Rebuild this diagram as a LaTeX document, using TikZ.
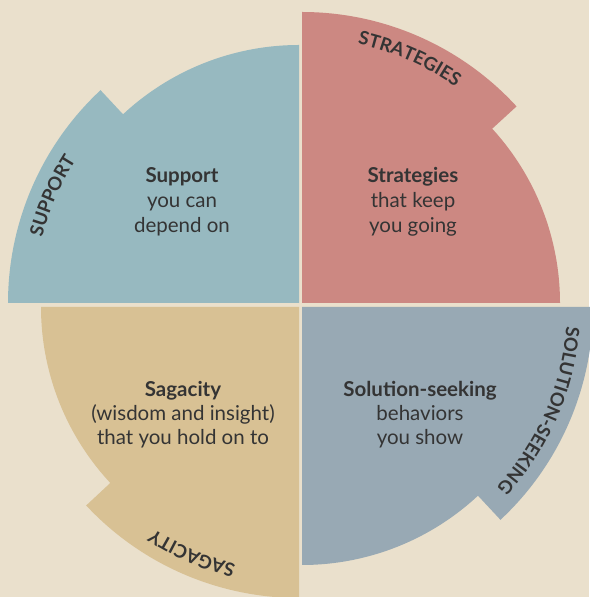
\documentclass[tikz,border=0pt]{standalone}
\usepackage{fontspec}
\setmainfont{Lato}
\newfontfamily\lblfont[LetterSpace=4]{Lato}
\usetikzlibrary{decorations.text}
\definecolor{bgc}{RGB}{234,224,204}
\definecolor{tlc}{RGB}{151,185,192}
\definecolor{trc}{RGB}{204,136,130}
\definecolor{brc}{RGB}{152,169,180}
\definecolor{blc}{RGB}{216,193,148}
\definecolor{txc}{RGB}{52,52,52}
\tikzset{
  x=1pt, y=1pt,
  body/.style={anchor=base, inner sep=0pt, text=txc, font=\fontsize{20.5}{24}\selectfont},
  bodyb/.style={body, font=\fontsize{20.5}{24}\selectfont\bfseries},
  band/.style={decorate, decoration={text along path, text align=center,
      text color=txc, text={|\lblfont\bfseries\fontsize{18.5}{19}\selectfont|#1}}},
}
\begin{document}
\begin{tikzpicture}
\fill[bgc] (0,0) rectangle (589,597);
\useasboundingbox (0,0) rectangle (589,597);
% top-left: Support
\begin{scope}[shift={(299,294)}]
  \coordinate (ctl) at (0,0);
  \fill[tlc] (ctl) -- (90:258) arc[start angle=90,end angle=133,radius=258]
    -- (133:291) arc[start angle=133,end angle=180,radius=291] -- cycle;
  \path[band=SUPPORT] (180:265) arc[start angle=180,end angle=133,radius=265];
\end{scope}
% top-right: Strategies
\begin{scope}[shift={(302,294)}]
  \coordinate (ctr) at (0,0);
  \fill[trc] (ctr) -- (0:258) arc[start angle=0,end angle=42.5,radius=258]
    -- (42.5:291) arc[start angle=42.5,end angle=90,radius=291] -- cycle;
  \path[band=STRATEGIES] (90:265) arc[start angle=90,end angle=42.5,radius=265];
\end{scope}
% bottom-right: Solution-seeking
\begin{scope}[shift={(302,290)}]
  \coordinate (cbr) at (0,0);
  \fill[brc] (cbr) -- (0:291) arc[start angle=0,end angle=-47,radius=291]
    -- (-47:258) arc[start angle=-47,end angle=-90,radius=258] -- cycle;
  \path[band=SOLUTION-SEEKING] (0:265) arc[start angle=0,end angle=-47,radius=265];
\end{scope}
% bottom-left: Sagacity
\begin{scope}[shift={(299,290)}]
  \coordinate (cbl) at (0,0);
  \fill[blc] (cbl) -- (180:258) arc[start angle=180,end angle=223,radius=258]
    -- (223:291) arc[start angle=223,end angle=270,radius=291] -- cycle;
  \path[band=SAGACITY] (270:265) arc[start angle=270,end angle=223,radius=265];
\end{scope}
% body texts
\node[bodyb] (sup1) at (182,414) {Support};
\node[body]  (sup2) at (182,389) {you can};
\node[body]  (sup3) at (182,364) {depend on};
\node[bodyb] (str1) at (413,414) {Strategies};
\node[body]  (str2) at (413,389) {that keep};
\node[body]  (str3) at (413,364) {you going};
\node[bodyb] (sag1) at (183,200) {Sagacity};
\node[body]  (sag2) at (183,176) {(wisdom and insight)};
\node[body]  (sag3) at (183,152) {that you hold on to};
\node[bodyb] (sol1) at (420,200) {Solution-seeking};
\node[body]  (sol2) at (420,176) {behaviors};
\node[body]  (sol3) at (420,152) {you show};
\end{tikzpicture}
\end{document}
